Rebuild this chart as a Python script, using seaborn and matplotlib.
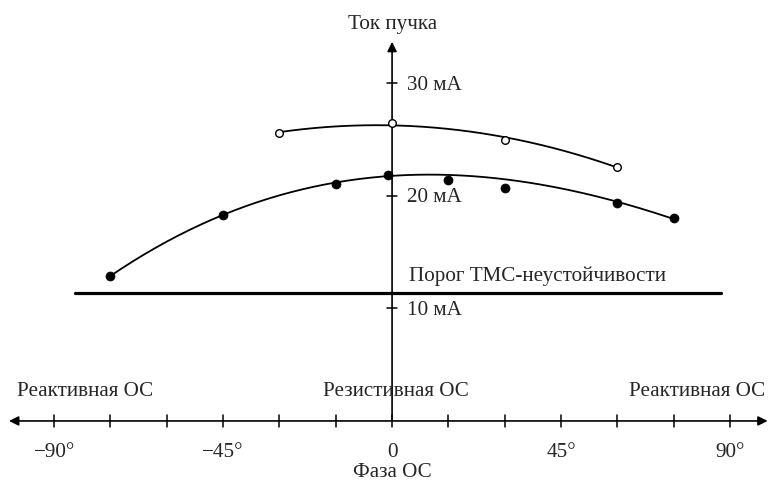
import numpy as np
import pandas as pd
import matplotlib
matplotlib.use("Agg")
import matplotlib.pyplot as plt
import seaborn as sns

# ---- data ----
filled_phase = [-75, -45, -15, -1, 15, 30, 60, 75]
filled_current = [12.9, 18.3, 21.1, 21.9, 21.4, 20.7, 19.4, 18.0]
filled_on_curve = [True, True, True, True, False, False, True, True]

open_phase = [-30, 0, 30, 60]
open_current = [25.6, 26.5, 25.0, 22.6]

threshold_current = 11.4
threshold_range = [-84.5, 87.5]

x_ticks = [-90, -75, -60, -45, -30, -15, 0, 15, 30, 45, 60, 75, 90]
x_tick_labels = {-90: "\u221290\u00b0", -45: "\u221245\u00b0", 0: "0", 45: "45\u00b0", 90: "90\u00b0"}
y_ticks = [10, 20, 30]
y_tick_labels = ["10 мА", "20 мА", "30 мА"]

sns.set_theme(style="white")
plt.rcParams["font.family"] = ["Liberation Serif", "DejaVu Serif"]

FS = 15.2

fig = plt.figure(figsize=(7.68, 4.88), dpi=100)
ax = fig.add_axes([0, 0, 1, 1])
ax.set_xlim(-104.4, 100.1)
ax.set_ylim(-5.96, 37.42)
ax.axis("off")

# trend curves (least-squares fits of the measured points)
fp = np.array(filled_phase)[filled_on_curve]
fc = np.array(filled_current)[filled_on_curve]
cf = np.polyfit(fp, fc, 3)
xf = np.linspace(min(filled_phase), max(filled_phase), 200)
co = np.polyfit(open_phase, open_current, 2)
xo = np.linspace(min(open_phase), max(open_phase), 200)

curves = pd.concat([
    pd.DataFrame({"phase": xf, "current": np.polyval(cf, xf), "s": "filled"}),
    pd.DataFrame({"phase": xo, "current": np.polyval(co, xo), "s": "open"}),
])
sns.lineplot(data=curves, x="phase", y="current", units="s", estimator=None,
             color="black", lw=1.3, ax=ax, sort=False)

# threshold
ax.plot(threshold_range, [threshold_current] * 2, color="black", lw=2.3)

# axes with arrows
ax.annotate("", xy=(-102, 0), xytext=(100, 0),
            arrowprops=dict(arrowstyle="<|-|>", color="black", lw=1.2,
                            mutation_scale=14, shrinkA=0, shrinkB=0))
ax.annotate("", xy=(0, 33.7), xytext=(0, 0),
            arrowprops=dict(arrowstyle="-|>", color="black", lw=1.2,
                            mutation_scale=14, shrinkA=0, shrinkB=0))

for t in x_ticks:
    ax.plot([t, t], [-0.55, 0.55], color="black", lw=1.1)
    if t in x_tick_labels:
        ax.text(t, -2.78, x_tick_labels[t], ha="center", va="center", fontsize=FS)
for t, lab in zip(y_ticks, y_tick_labels):
    ax.plot([-1.4, 1.4], [t, t], color="black", lw=1.1)
    ax.text(4.0, t - 0.15, lab, ha="left", va="center", fontsize=FS)

# points
sns.scatterplot(x=filled_phase, y=filled_current, color="black", s=42,
                edgecolor="black", linewidth=0.5, ax=ax, zorder=5)
sns.scatterplot(x=open_phase, y=open_current, facecolor="white", s=30,
                edgecolor="black", linewidth=1.0, ax=ax, zorder=5)

# texts
ax.text(0, 35.25, "Ток пучка", ha="center", va="center", fontsize=FS)
ax.text(4.5, 12.9, "Порог ТМС-неустойчивости", ha="left", va="center", fontsize=FS)
ax.text(-100, 2.62, "Реактивная ОС", ha="left", va="center", fontsize=FS)
ax.text(1, 2.62, "Резистивная ОС", ha="center", va="center", fontsize=FS)
ax.text(99.5, 2.62, "Реактивная ОС", ha="right", va="center", fontsize=FS)
ax.text(0, -4.62, "Фаза ОС", ha="center", va="center", fontsize=FS)

fig.savefig("out.png", dpi=100)
